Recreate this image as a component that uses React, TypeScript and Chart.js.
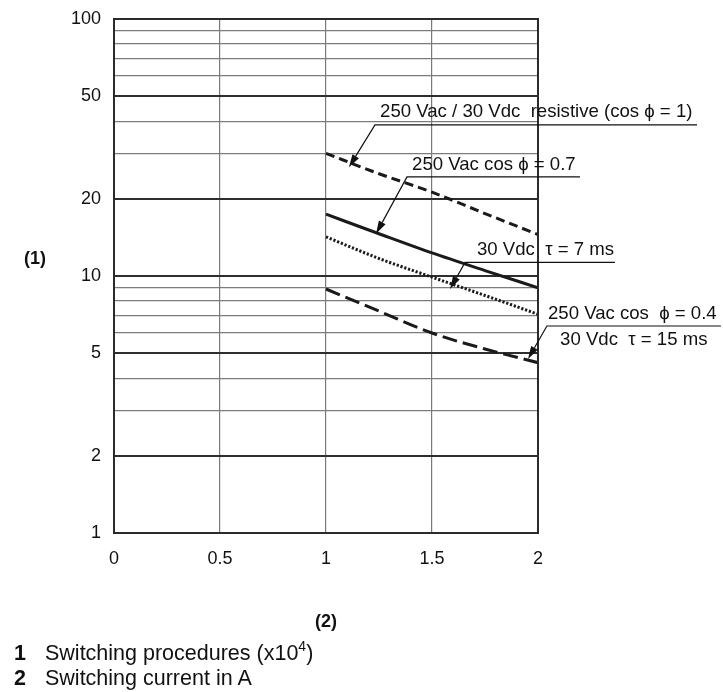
import React, { useEffect, useRef } from 'react';
import { Chart, registerables } from 'chart.js';

Chart.register(...registerables);

// ---- data ----
const xValues = [1, 1.25, 1.5, 1.75, 2];
const resistive = [30, 25, 21.2, 17.5, 14.5];
const cos07 = [17.4, 14.6, 12.3, 10.5, 9];
const vdc7ms = [14.2, 11.7, 9.9, 8.4, 7.1];
const cos04 = [8.9, 7.3, 6.0, 5.2, 4.6];

const yGridValues = [1, 2, 3, 4, 5, 6, 7, 8, 9, 10, 20, 30, 40, 50, 60, 70, 80, 90, 100];
const yLabelValues = [1, 2, 5, 10, 20, 50, 100];
const yStrongValues = [2, 5, 10, 20, 50];
const xTickValues = [0, 0.5, 1, 1.5, 2];
const xTickLabels = ['0', '0.5', '1', '1.5', '2'];

// callouts (data units)
const calloutLabels = [
  '250 Vac / 30 Vdc  resistive (cos \u03D5 = 1)',
  '250 Vac cos \u03D5 = 0.7',
  '30 Vdc  \u03C4 = 7 ms',
  '250 Vac cos  \u03D5 = 0.4',
];
const calloutTextX = [1.255, 1.406, 1.712, 2.047];
const calloutTextY = [43.5, 27.0, 12.6, 7.11];
const calloutLineX0 = [1.231, 1.382, 1.656, 2.042];
const calloutLineX1 = [2.75, 2.198, 2.363, 2.863];
const calloutLineY = [38.7, 24.3, 11.3, 6.39];
const calloutTipX = [1.108, 1.236, 1.585, 1.953];
const calloutTipY = [26.5, 14.6, 8.9, 4.75];
const subLabel = '30 Vdc  \u03C4 = 15 ms';
const subLabelX = 2.104;
const subLabelY = 5.64;

const FONT = '"Liberation Sans", Arial, Helvetica, sans-serif';

const frameAndCallouts = {
  id: 'frameAndCallouts',
  afterDraw(chart: any) {
    const { ctx, chartArea } = chart;
    const xs = chart.scales.x;
    const ys = chart.scales.y;
    ctx.save();
    // frame
    ctx.strokeStyle = '#2b2b2b';
    ctx.lineWidth = 2;
    ctx.strokeRect(chartArea.left, chartArea.top, chartArea.right - chartArea.left, chartArea.bottom - chartArea.top);

    ctx.fillStyle = '#111';
    ctx.strokeStyle = '#111';
    ctx.font = '18.6px ' + FONT;
    ctx.textBaseline = 'middle';
    ctx.textAlign = 'left';
    for (let i = 0; i < calloutLabels.length; i++) {
      const tx = xs.getPixelForValue(calloutTextX[i]);
      const ty = ys.getPixelForValue(calloutTextY[i]);
      ctx.fillText(calloutLabels[i], tx, ty);
      const lx0 = xs.getPixelForValue(calloutLineX0[i]);
      const lx1 = xs.getPixelForValue(calloutLineX1[i]);
      const ly = ys.getPixelForValue(calloutLineY[i]);
      const px = xs.getPixelForValue(calloutTipX[i]);
      const py = ys.getPixelForValue(calloutTipY[i]);
      ctx.lineWidth = 1.2;
      ctx.beginPath();
      ctx.moveTo(lx1, ly);
      ctx.lineTo(lx0, ly);
      const ang = Math.atan2(py - ly, px - lx0);
      const headLen = 13;
      const bx = px - headLen * Math.cos(ang);
      const by = py - headLen * Math.sin(ang);
      ctx.lineTo(bx, by);
      ctx.stroke();
      const hw = 3.8;
      ctx.beginPath();
      ctx.moveTo(px, py);
      ctx.lineTo(bx + hw * Math.sin(ang), by - hw * Math.cos(ang));
      ctx.lineTo(bx - hw * Math.sin(ang), by + hw * Math.cos(ang));
      ctx.closePath();
      ctx.fill();
    }
    ctx.fillText(subLabel, xs.getPixelForValue(subLabelX), ys.getPixelForValue(subLabelY));
    ctx.restore();
  },
};

function App() {
  const canvasRef = useRef<HTMLCanvasElement | null>(null);

  useEffect(() => {
    const canvas = canvasRef.current;
    if (!canvas) return;
    const mk = (arr: number[]) => xValues.map((x, i) => ({ x, y: arr[i] }));
    const common = { borderColor: '#1a1a1a', borderWidth: 3, cubicInterpolationMode: 'monotone', pointRadius: 0, fill: false, borderCapStyle: 'butt' };
    const chart = new Chart(canvas, {
      type: 'line',
      data: {
        datasets: [
          { ...common, label: 'resistive', data: mk(resistive), borderDash: [9, 5] },
          { ...common, label: 'cos 0.7', data: mk(cos07) },
          { ...common, label: '30 Vdc 7 ms', data: mk(vdc7ms), borderDash: [2.2, 1.8] },
          { ...common, label: 'cos 0.4', data: mk(cos04), borderDash: [15, 6] },
        ] as any,
      },
      options: {
        animation: false,
        responsive: false,
        maintainAspectRatio: false,
        layout: { padding: { top: 19, right: 185, bottom: 49, left: 0 } },
        plugins: { legend: { display: false }, tooltip: { enabled: false } },
        scales: {
          x: {
            type: 'linear',
            min: 0,
            max: 2,
            afterBuildTicks: (scale: any) => {
              scale.ticks = xTickValues.map((v) => ({ value: v }));
            },
            afterFit: (scale: any) => {
              scale.height = 110;
              scale.paddingLeft = 0;
              scale.paddingRight = 0;
            },
            ticks: {
              padding: 15,
              color: '#111',
              font: { family: FONT, size: 18 },
              maxRotation: 0,
              callback: (v: any) => {
                const idx = xTickValues.indexOf(Number(v));
                return idx >= 0 ? xTickLabels[idx] : '';
              },
            },
            grid: { drawTicks: false, color: '#7a7a7a', lineWidth: 1.2 },
            border: { display: false },
            title: {
              display: true,
              text: '(2)',
              color: '#111',
              font: { family: FONT, size: 18, weight: 'bold' },
              padding: { top: 0, bottom: 10 },
            },
          },
          y: {
            type: 'logarithmic',
            min: 1,
            max: 100,
            afterBuildTicks: (scale: any) => {
              scale.ticks = yGridValues.map((v) => ({ value: v }));
            },
            afterFit: (scale: any) => {
              scale.width = 114;
              scale.paddingTop = 0;
              scale.paddingBottom = 0;
            },
            ticks: {
              padding: 13,
              color: '#111',
              font: { family: FONT, size: 18 },
              autoSkip: false,
              callback: (v: any) => (yLabelValues.indexOf(Number(v)) >= 0 ? String(v) : ''),
            },
            grid: {
              drawTicks: false,
              color: (c: any) => (yStrongValues.indexOf(c.tick?.value) >= 0 ? '#2e2e2e' : '#7c7c7c'),
              lineWidth: (c: any) => (yStrongValues.indexOf(c.tick?.value) >= 0 ? 2 : 1.3),
            },
            border: { display: false },
          },
        },
      } as any,
      plugins: [frameAndCallouts],
    });
    return () => chart.destroy();
  }, []);

  return (
    <div style={{ position: 'absolute', left: 0, top: 0, width: 723, height: 692, background: '#fff', fontFamily: FONT, color: '#111' }}>
      <canvas ref={canvasRef} width={723} height={692} style={{ position: 'absolute', left: 0, top: 0, width: 723, height: 692 }} />
      <div style={{ position: 'absolute', left: 24, top: 247, fontSize: 18, fontWeight: 'bold', lineHeight: '22px' }}>(1)</div>
      <div style={{ position: 'absolute', left: 14, top: 641, fontSize: 21.5, lineHeight: '25px', whiteSpace: 'nowrap' }}>
        <span style={{ fontWeight: 'bold', display: 'inline-block', width: 31 }}>1</span>
        Switching procedures (x10<span style={{ fontSize: 14, position: 'relative', top: -9 }}>4</span>)
      </div>
      <div style={{ position: 'absolute', left: 14, top: 666, fontSize: 21.5, lineHeight: '25px', whiteSpace: 'nowrap' }}>
        <span style={{ fontWeight: 'bold', display: 'inline-block', width: 31 }}>2</span>
        Switching current in A
      </div>
    </div>
  );
}

export default App;
